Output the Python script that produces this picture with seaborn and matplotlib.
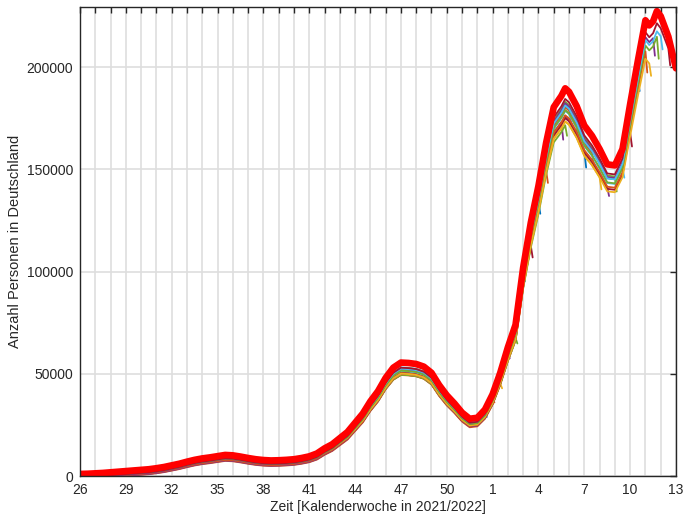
import numpy as np
import pandas as pd
import matplotlib
matplotlib.use("Agg")
import matplotlib.pyplot as plt
import seaborn as sns

# position in weeks after KW 26/2021 and the latest data version (red line)
week_pos = [0, 0.5, 1, 1.5, 2, 2.5, 3, 3.5, 4, 4.5, 5, 5.5, 6, 6.5, 7, 7.5,
            8, 8.5, 9, 9.5, 10, 10.5, 11, 11.5, 12, 12.5, 13, 13.5, 14, 14.5,
            15, 15.5, 16, 16.5, 17, 17.5, 18, 18.5, 19, 19.5, 20, 20.5, 21,
            21.5, 22, 22.5, 23, 23.5, 24, 24.5, 25, 25.5, 26, 26.5, 27, 27.5,
            28, 28.5, 29, 29.5, 30, 30.5, 31, 31.5, 31.75, 32, 32.5, 33, 33.5,
            34, 34.5, 35, 35.5, 36, 36.5, 37, 37.25, 37.5, 37.75, 38, 38.5, 39]
latest = [1000, 1100, 1300, 1500, 1800, 2100, 2400, 2700, 3000, 3300, 3800,
          4400, 5200, 6000, 7000, 7900, 8600, 9100, 9700, 10300, 10100, 9500,
          8800, 8200, 7800, 7600, 7700, 7900, 8200, 8800, 9600, 11000, 13500,
          15500, 18500, 21500, 26000, 30500, 36500, 41500, 48000, 53000, 55500,
          55300, 54800, 53500, 50500, 44500, 39500, 35500, 31000, 28000, 28500,
          32500, 40000, 50500, 63000, 74000, 102000, 124000, 142000, 163000,
          180500, 186000, 189700, 188000, 181000, 171500, 166500, 160000,
          152500, 152000, 160000, 182000, 203000, 223000, 220500, 222500,
          227500, 225000, 215000, 199500]

# older data versions: last week shown, level relative to latest,
# fixed shortfall in persons, drop of the last reported day
version_end = [26.5, 27, 27.5, 28, 28.5, 29, 29.5, 30, 30.5, 31, 31.5, 31.75,
               32, 32.5, 33, 33.5, 34, 34.5, 35, 35.5, 36, 36.5, 37, 37.25,
               37.5, 37.75, 38, 38.5]
version_scale = [0.97, 0.95, 0.93, 0.96, 0.94, 0.97, 0.92, 0.95, 0.93, 0.96,
                 0.94, 0.91, 0.97, 0.95, 0.93, 0.96, 0.92, 0.94, 0.97, 0.95,
                 0.93, 0.96, 0.94, 0.92, 0.97, 0.95, 0.96, 0.98]
version_gap = [1400, 900, 1800, 1100, 2000, 700, 1500, 1200, 2200, 800,
               1600, 1000, 1900, 1300, 600, 1700, 1100, 2100, 900, 1500,
               1300, 700, 1800, 1000, 1600, 1200, 800, 1400]
hook_drop = [0.96, 0.97, 0.95, 0.97, 0.96, 0.97, 0.95, 0.96, 0.96, 0.97,
             0.95, 0.97, 0.96, 0.97, 0.95, 0.96, 0.96, 0.97, 0.95, 0.97,
             0.96, 0.97, 0.95, 0.97, 0.96, 0.95, 0.97, 0.96]

tick_labels = ["26", "29", "32", "35", "38", "41", "44", "47", "50",
               "1", "4", "7", "10", "13"]

octave_colors = ["#0072BD", "#D95319", "#EDB120", "#7E2F8E",
                 "#77AC30", "#4DBEEE", "#A2142F"]

assert len(week_pos) == len(latest)

# build long table of older versions
rows = []
for k, (end, sc, gap, hd) in enumerate(zip(version_end, version_scale,
                                           version_gap, hook_drop)):
    last = None
    for w, v in zip(week_pos, latest):
        if w <= end:
            last = max(v * sc - gap, 0)
            rows.append((k, w, last))
    rows.append((k, end + 0.12, last * hd))
df = pd.DataFrame(rows, columns=["version", "week", "value"])
df_latest = pd.DataFrame({"week": week_pos, "value": latest})

sns.set_theme(style="white")
plt.rcParams["font.family"] = ["Liberation Sans", "DejaVu Sans"]

fig = plt.figure(figsize=(6.83, 5.14), dpi=100)
ax = fig.add_axes([80 / 683, 38 / 514, 596 / 683, 469 / 514])

palette = [octave_colors[i % 7] for i in range(len(version_end))]
sns.lineplot(data=df, x="week", y="value", hue="version", palette=palette,
             estimator=None, sort=False, linewidth=1.3, legend=False, ax=ax)
sns.lineplot(data=df_latest, x="week", y="value", color="#FF0000",
             estimator=None, sort=False, linewidth=4.8, ax=ax)

ax.set_xlim(0, 39)
ax.set_ylim(0, 229500)
ax.set_xticks(np.arange(0, 40, 1))
ax.set_xticklabels([tick_labels[i // 3] if i % 3 == 0 else "" for i in range(40)])
ax.set_yticks([0, 50000, 100000, 150000, 200000])
ax.set_yticklabels(["0", "50000", "100000", "150000", "200000"])

ax.grid(True, color="#dedede", linewidth=1.2)
ax.set_axisbelow(True)
ax.tick_params(direction="in", length=4, width=1, color="#262626",
               top=True, right=True, labelsize=10, labelcolor="#262626", pad=5)
for s in ax.spines.values():
    s.set_color("#262626")
    s.set_linewidth(1)

ax.set_xlabel("Zeit [Kalenderwoche in 2021/2022]", fontsize=10,
              color="#262626", labelpad=2)
ax.set_ylabel("Anzahl Personen in Deutschland", fontsize=10.5,
              color="#262626", labelpad=3)

fig.savefig("out.png", dpi=100)
